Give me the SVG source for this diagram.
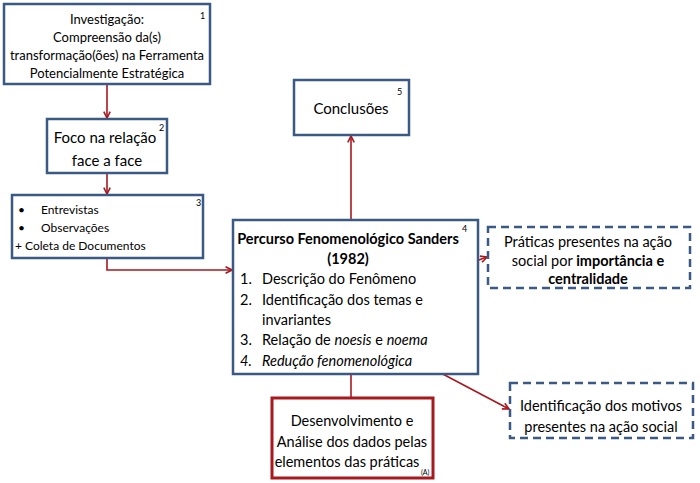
<svg xmlns="http://www.w3.org/2000/svg" width="700" height="483" viewBox="0 0 700 483">
<defs>
<marker id="ah" viewBox="0 0 10 10" refX="9" refY="5" markerWidth="8" markerHeight="8" orient="auto" markerUnits="userSpaceOnUse">
<path d="M1,1 L9,5 L1,9" fill="none" stroke="#a8181f" stroke-width="2"/>
</marker>
<style>
.box{fill:#fff;stroke:#3a5a85;stroke-width:2.5}
.dash{fill:#fff;stroke:#3a5a85;stroke-width:2.5;stroke-dasharray:8,5}
.red{fill:#fff;stroke:#a8181f;stroke-width:3}
.conn{fill:none;stroke:#a8181f;stroke-width:1.6}
text{font-family:Lato,"Liberation Sans",sans-serif;fill:#000}
.t13{font-size:13px}
.t12{font-size:12px}
.t15{font-size:15px}
.t14{font-size:14.5px}
.n{font-size:9px}
.c{text-anchor:middle}
.b{font-weight:bold}
</style>
</defs>
<rect width="700" height="483" fill="#fff"/>
<g id="connectors">
<line class="conn" x1="107" y1="85" x2="107" y2="118" marker-end="url(#ah)"/>
<line class="conn" x1="107" y1="174" x2="107" y2="194" marker-end="url(#ah)"/>
<polyline class="conn" points="107,259 107,270 232,270" marker-end="url(#ah)"/>
<line class="conn" x1="351" y1="219" x2="351" y2="136" marker-end="url(#ah)"/>
<line class="conn" x1="351" y1="375" x2="351" y2="397"/>
<line class="conn" x1="393" y1="291" x2="487" y2="257" marker-end="url(#ah)"/>
<line class="conn" x1="420" y1="362" x2="509" y2="409" marker-end="url(#ah)"/>
</g>
<g id="n1">
<rect class="box" x="4" y="4" width="206" height="80"/>
<text class="t13 c" x="107" y="24">Investigação:</text>
<text class="t13 c" x="107" y="42">Compreensão da(s)</text>
<text class="t13 c" x="107" y="60">transformação(ões) na Ferramenta</text>
<text class="t13 c" x="107" y="78">Potencialmente Estratégica</text>
<text class="n" x="200" y="19">1</text>
</g>
<g id="n2">
<rect class="box" x="47" y="119" width="120" height="54"/>
<text class="t15 c" x="105" y="143">Foco na relação</text>
<text class="t15 c" x="107" y="166">face a face</text>
<text class="n" x="159" y="131">2</text>
</g>
<g id="n3">
<rect class="box" x="12" y="195" width="191" height="63"/>
<text class="t12" x="18" y="214">•</text>
<text class="t12" x="41" y="214">Entrevistas</text>
<text class="t12" x="18" y="232">•</text>
<text class="t12" x="41" y="232">Observações</text>
<text class="t12" x="15" y="250">+ Coleta de Documentos</text>
<text class="n" x="196" y="206">3</text>
</g>
<g id="n4">
<rect class="box" x="233" y="220" width="245" height="154"/>
<text class="t14 c b" x="348" y="244">Percurso Fenomenológico Sanders</text>
<text class="t14 c b" x="348" y="264">(1982)</text>
<text class="t14" x="240" y="284">1.</text>
<text class="t14" x="262" y="284">Descrição do Fenômeno</text>
<text class="t14" x="240" y="305">2.</text>
<text class="t14" x="262" y="305">Identificação dos temas e</text>
<text class="t14" x="262" y="325">invariantes</text>
<text class="t14" x="240" y="345">3.</text>
<text class="t14" x="262" y="345">Relação de <tspan font-style="italic">noesis</tspan> e <tspan font-style="italic">noema</tspan></text>
<text class="t14" x="240" y="366" font-style="italic">4.</text>
<text class="t14" x="262" y="366" font-style="italic">Redução fenomenológica</text>
<text class="n" x="462" y="232">4</text>
</g>
<g id="n5">
<rect class="box" x="294" y="80" width="115" height="55"/>
<text class="t15 c" x="351" y="114">Conclusões</text>
<text class="n" x="397" y="95">5</text>
</g>
<g id="nA">
<rect class="red" x="272" y="398" width="161" height="80"/>
<text class="t14 c" x="352" y="426">Desenvolvimento e</text>
<text class="t14 c" x="352" y="447">Análise dos dados pelas</text>
<text class="t14 c" x="347" y="467">elementos das práticas</text>
<text x="421" y="475" font-size="7">(A)</text>
</g>
<g id="n6">
<rect class="dash" x="488" y="227" width="202" height="61"/>
<text class="t14 c" x="588" y="247">Práticas presentes na ação</text>
<text class="t14 c" x="588" y="266">social por <tspan class="b">importância e</tspan></text>
<text class="t14 c b" x="588" y="284">centralidade</text>
</g>
<g id="n7">
<rect class="dash" x="510" y="383" width="183" height="55"/>
<text class="t14 c" x="601" y="411">Identificação dos motivos</text>
<text class="t14 c" x="601" y="432">presentes na ação social</text>
</g>
</svg>
